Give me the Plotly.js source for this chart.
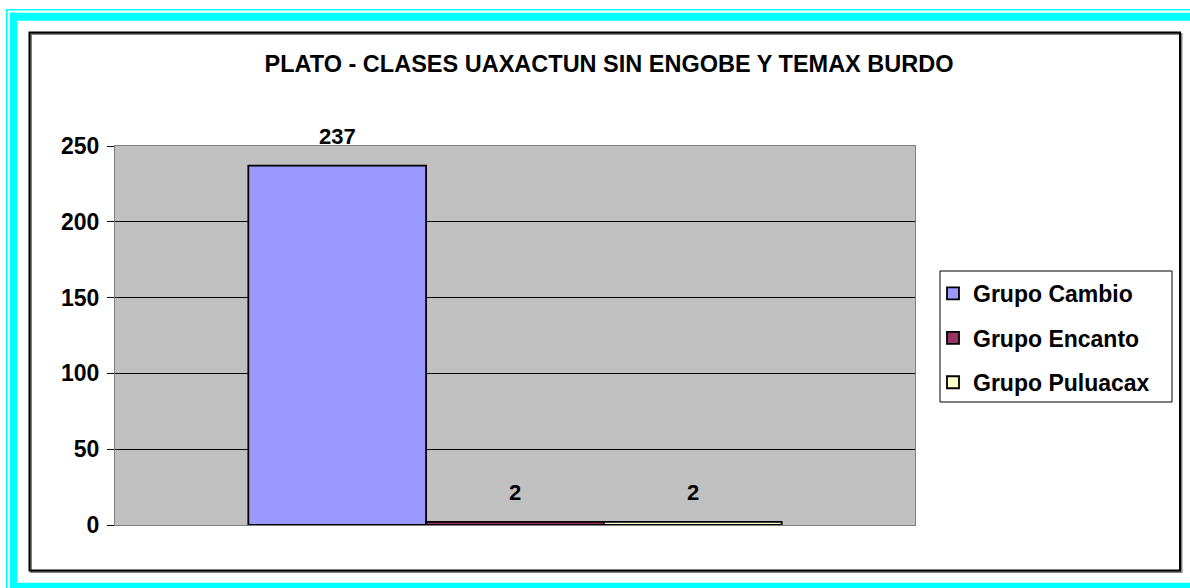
<!DOCTYPE html>
<html>
<head>
<meta charset="utf-8">
<script src="https://cdn.plot.ly/plotly-3.0.1.min.js"></script>
<style>html,body{margin:0;padding:0;background:#fff;}#chart{width:1190px;height:588px;}</style>
</head>
<body>
<div id="chart"></div>
<script>
// ---- data ----
const categories = ['PLATO'];
const seriesNames = ['Grupo Cambio', 'Grupo Encanto', 'Grupo Puluacax'];
const seriesValues = [237, 2, 2];
const seriesColors = ['#9999FF', '#993366', '#FFFFCC'];
const yTicks = [0, 50, 100, 150, 200, 250];
const titleText = 'PLATO - CLASES UAXACTUN SIN ENGOBE Y TEMAX BURDO';

// ---- geometry (pixels) ----
const W = 1190, H = 588;
const L = 115, R = 915, T = 146, B = 525;
const X = px => (px - L) / (R - L);
const Y = py => (B - py) / (B - T);
const FONT = 'Liberation Sans, Arial, sans-serif';
const bargap = 1 / 3;
const barPx = (R - L) * (1 - bargap) / seriesValues.length;

const traces = seriesNames.map((name, i) => ({
  type: 'bar',
  name: name,
  x: categories,
  y: [seriesValues[i]],
  legendgroup: 'g' + i,
  marker: { color: seriesColors[i], line: { color: '#000000', width: 1.8 } },
  hoverinfo: 'none'
}));

const annotations = seriesValues.map((v, i) => ({
  x: categories[0], y: v, xref: 'x', yref: 'y',
  xshift: (i - (seriesValues.length - 1) / 2) * barPx,
  yshift: 29, yanchor: 'middle', xanchor: 'center',
  text: String(v), showarrow: false,
  font: { family: FONT, size: 22, color: '#000', weight: 'bold' }
}));

function rect(x0, y0, x1, y1, fill, line, lw, layer) {
  return { type: 'rect', xref: 'paper', yref: 'paper',
    x0: X(x0), x1: X(x1), y0: Y(y1), y1: Y(y0),
    fillcolor: fill, line: { color: line || 'rgba(0,0,0,0)', width: lw || 0 },
    layer: layer || 'below' };
}

const shapes = [
  rect(6, 9, 1190, 10.5, '#00FFFF'),
  rect(6, 9, 7.7, 588, '#00FFFF'),
  rect(10, 12.7, 1190, 20.7, '#00FFFF'),
  rect(10, 12.7, 17.3, 588, '#00FFFF'),
  rect(10, 582.7, 1190, 588, '#00FFFF'),
  rect(31, 34, 1181.5, 572, 'rgba(0,0,0,0)', '#808080', 2),
  rect(29.5, 32.5, 1180, 570.5, 'rgba(0,0,0,0)', '#000000', 2),
  rect(940, 271, 1172, 402, '#FFFFFF', '#000000', 1, 'above')
];

const layout = {
  width: W, height: H,
  margin: { l: L, r: W - R, t: T, b: H - B, pad: 0 },
  paper_bgcolor: '#FFFFFF',
  plot_bgcolor: '#C0C0C0',
  barmode: 'group',
  bargap: bargap,
  bargroupgap: 0,
  showlegend: true,
  title: {
    text: titleText,
    font: { family: FONT, size: 23.5, color: '#000', weight: 'bold' },
    x: 609 / W, xref: 'container', xanchor: 'center',
    y: 1 - 64 / H, yref: 'container', yanchor: 'middle'
  },
  xaxis: {
    type: 'category', showticklabels: false, ticks: '',
    showline: true, mirror: true, linecolor: '#808080', linewidth: 1,
    showgrid: false, zeroline: false, fixedrange: true
  },
  yaxis: {
    range: [0, 250], tickvals: yTicks, ticktext: yTicks.map(String),
    ticks: 'outside', ticklen: 7, tickcolor: '#000', tickwidth: 1,
    showline: true, mirror: true, linecolor: '#808080', linewidth: 1,
    showgrid: true, gridcolor: '#000000', gridwidth: 1, zeroline: false,
    ticklabelstandoff: 3,
    tickfont: { family: FONT, size: 23, color: '#000', weight: 'bold' },
    fixedrange: true
  },
  legend: {
    x: X(933), xanchor: 'left', y: Y(272), yanchor: 'top',
    bgcolor: 'rgba(0,0,0,0)', borderwidth: 0,
    tracegroupgap: 11.5, traceorder: 'grouped',
    font: { family: FONT, size: 23, color: '#000', weight: 'bold' }
  },
  shapes: shapes,
  annotations: annotations
};

Plotly.newPlot('chart', traces, layout, { displayModeBar: false, staticPlot: true });
</script>
</body>
</html>
